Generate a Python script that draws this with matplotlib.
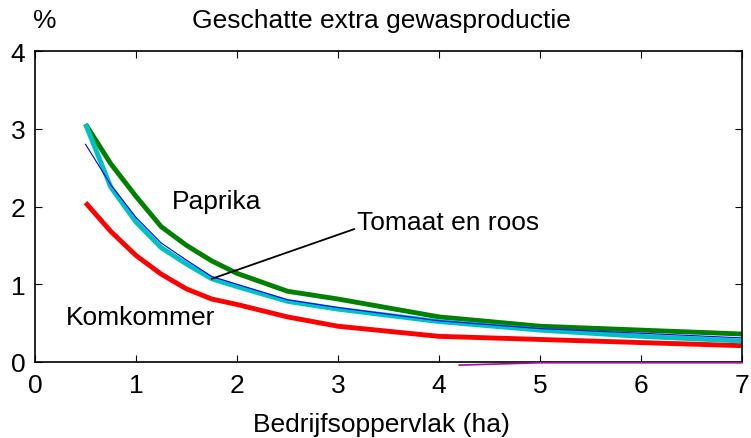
import matplotlib
matplotlib.use("Agg")
import matplotlib.pyplot as plt

plt.rcParams['font.family'] = ['Liberation Sans', 'DejaVu Sans']

opp = [0.5, 0.75, 1.0, 1.25, 1.5, 1.75, 2.0, 2.5, 3.0, 4.0, 5.0, 6.0, 7.0]
paprika = [3.06, 2.55, 2.13, 1.74, 1.50, 1.30, 1.14, 0.91, 0.81, 0.58, 0.46, 0.41, 0.36]
tomaat = [3.06, 2.25, 1.80, 1.47, 1.26, 1.07, 0.97, 0.78, 0.68, 0.52, 0.41, 0.33, 0.27]
roos = [2.80, 2.28, 1.86, 1.53, 1.31, 1.10, 1.00, 0.80, 0.70, 0.53, 0.43, 0.37, 0.31]
komkommer = [2.05, 1.68, 1.37, 1.13, 0.94, 0.81, 0.74, 0.58, 0.46, 0.33, 0.29, 0.25, 0.21]
rest_x = [4.2, 5.0, 6.0, 7.0]
rest_y = [-0.04, -0.01, -0.01, -0.01]

fs = 19

fig = plt.figure(figsize=(7.51, 4.39), dpi=100)
ax = fig.add_axes([35/751, 1-363/439, 707/751, 311/439])

ax.plot(opp, komkommer, c="#ff0000", lw=3.5, solid_capstyle="butt")
ax.plot(opp, paprika, c="#008000", lw=3.5, solid_capstyle="butt")
ax.plot(opp, tomaat, c="#00c0c0", lw=3.5, solid_capstyle="butt")
ax.plot(opp, roos, c="#0000ff", lw=0.8)

ax.set_xlim(0, 7)
ax.set_ylim(0, 4)
ax.set_xticks(range(8))
ax.set_yticks(range(5))
ax.tick_params(direction="in", top=True, right=True, length=5, width=0.8,
               labelsize=fs)
ax.tick_params(axis="x", pad=8)
ax.tick_params(axis="y", pad=7)
for s in ax.spines.values():
    s.set_linewidth(1.2)
ax.plot(rest_x, rest_y, c="#a010a0", lw=1.2, clip_on=False, zorder=3)

fig.text(381/751, 1-432/439, "Bedrijfsoppervlak (ha)", ha="center", va="baseline", fontsize=fs)
fig.text(381/751, 1-21/439, "Geschatte extra gewasproductie", ha="center", va="center", fontsize=fs)
fig.text(45/751, 1-21/439, "%", ha="center", va="center", fontsize=fs)

ax.text(1.36, 2.07, "Paprika", fontsize=fs, va="center")
ax.text(0.31, 0.58, "Komkommer", fontsize=fs, va="center")
ax.annotate("Tomaat en roos", xy=(1.75, 1.07), xytext=(3.19, 1.8),
            fontsize=fs, va="center",
            arrowprops=dict(arrowstyle="-", color="black", lw=1.3,
                            shrinkA=0, shrinkB=0, relpos=(0, 0.25)))

fig.savefig("out.png", dpi=100)
